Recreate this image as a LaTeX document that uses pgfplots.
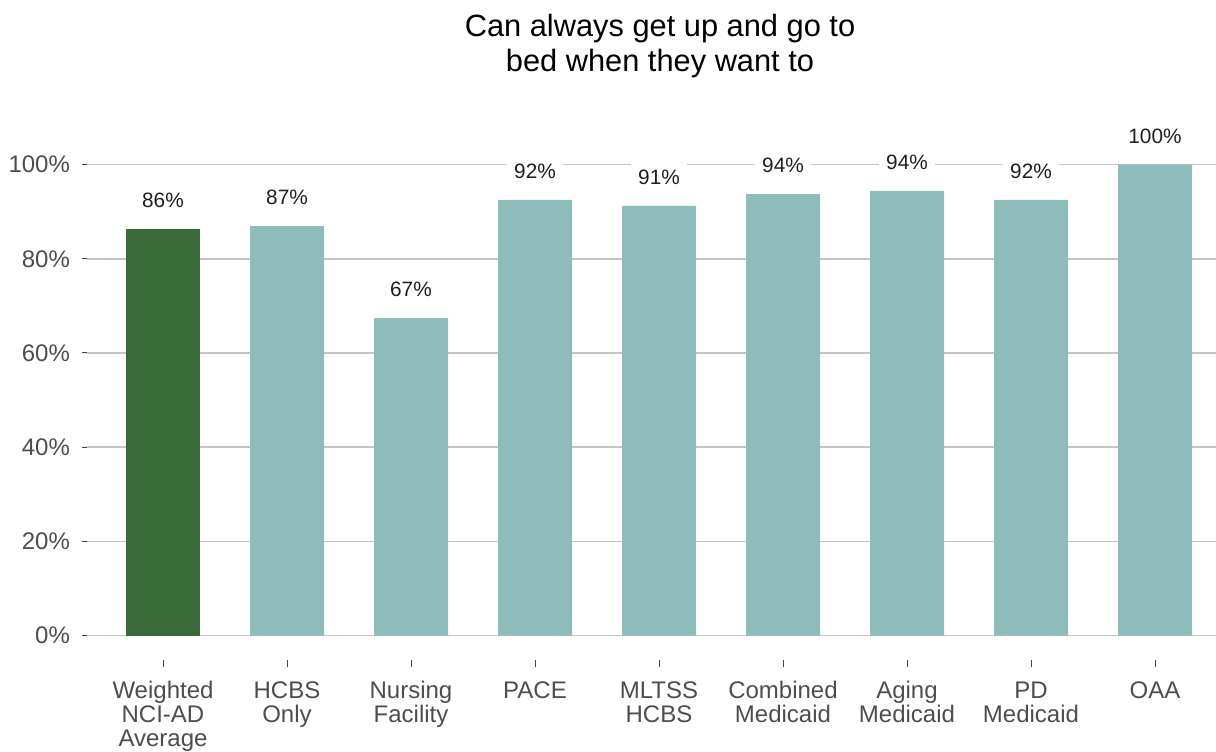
\documentclass[border=0pt]{standalone}
\usepackage{fontspec}
\setmainfont{Liberation Sans}
\usepackage{pgfplots}
\usepackage{pgfplotstable}
\pgfplotsset{compat=1.18}

\definecolor{avggreen}{HTML}{3A6A3A}
\definecolor{barteal}{HTML}{8EBCBB}
\definecolor{tickgray}{HTML}{4D4D4D}
\definecolor{gridgray}{HTML}{C4C4C4}

% same height for every first line of the category labels
\newcommand{\fl}{\rule{0pt}{10pt}}

% weighted average (drawn green)
\pgfplotstableread{
x y lab
0 86.4 86
}\avgtable

% program groups
\pgfplotstableread{
x y lab
1 86.9 87
2 67.4 67
3 92.5 92
4 91.2 91
5 93.7 94
6 94.4 94
7 92.5 92
8 100 100
}\grouptable

\begin{document}
\begin{tikzpicture}
\useasboundingbox (0,0) rectangle (608pt,375.5pt);
\node[anchor=base, font=\fontsize{15.4}{17.5}\selectfont] at (330pt,357pt) {Can always get up and go to};
\node[anchor=base, font=\fontsize{15.4}{17.5}\selectfont] at (330pt,339.5pt) {bed when they want to};
\begin{axis}[
    at={(43.5pt,45.5pt)}, anchor=south west,
    scale only axis,
    width=564.5pt, height=259.5pt,
    xmin=-0.6129, xmax=8.4919,
    ymin=-5.2, ymax=105,
    clip=false,
    ybar,
    bar width=37pt,
    axis line style={draw=none},
    xtick={0,1,2,3,4,5,6,7,8},
    xticklabels={{\fl Weighted\\NCI-AD\\Average},{\fl HCBS\\Only},{\fl Nursing\\Facility},{\fl PACE},{\fl MLTSS\\HCBS},{\fl Combined\\Medicaid},{\fl Aging\\Medicaid},{\fl PD\\Medicaid},{\fl OAA}},
    ytick={0,20,40,60,80,100},
    yticklabel={\pgfmathprintnumber{\tick}\%},
    /pgf/number format/assume math mode=true,
    xtick pos=lower, ytick pos=left,
    tick align=outside,
    major tick length=2.5pt,
    tick style={draw=black!75, line width=0.5pt},
    xtick style={/pgfplots/major tick length=3.5pt},
    ymajorgrids,
    major grid style={draw=gridgray, line width=0.8pt},
    ticklabel style={text=tickgray, font=\fontsize{12}{12.1}\selectfont},
    xticklabel style={align=center, anchor=north, yshift=-3.1pt},
    yticklabel style={anchor=east, xshift=-2.5pt},
    point meta=explicit symbolic,
    nodes near coords={\pgfplotspointmeta\%},
    nodes near coords style={anchor=center, yshift=14.3pt, fill=white, inner sep=3.5pt,
        text=black!88, font=\fontsize{10.4}{12}\selectfont},
]
\addplot[bar shift=0pt, fill=avggreen, draw=none] table[x=x, y=y, meta=lab] {\avgtable};
\addplot[bar shift=0pt, fill=barteal, draw=none] table[x=x, y=y, meta=lab] {\grouptable};
\end{axis}
\end{tikzpicture}
\end{document}
